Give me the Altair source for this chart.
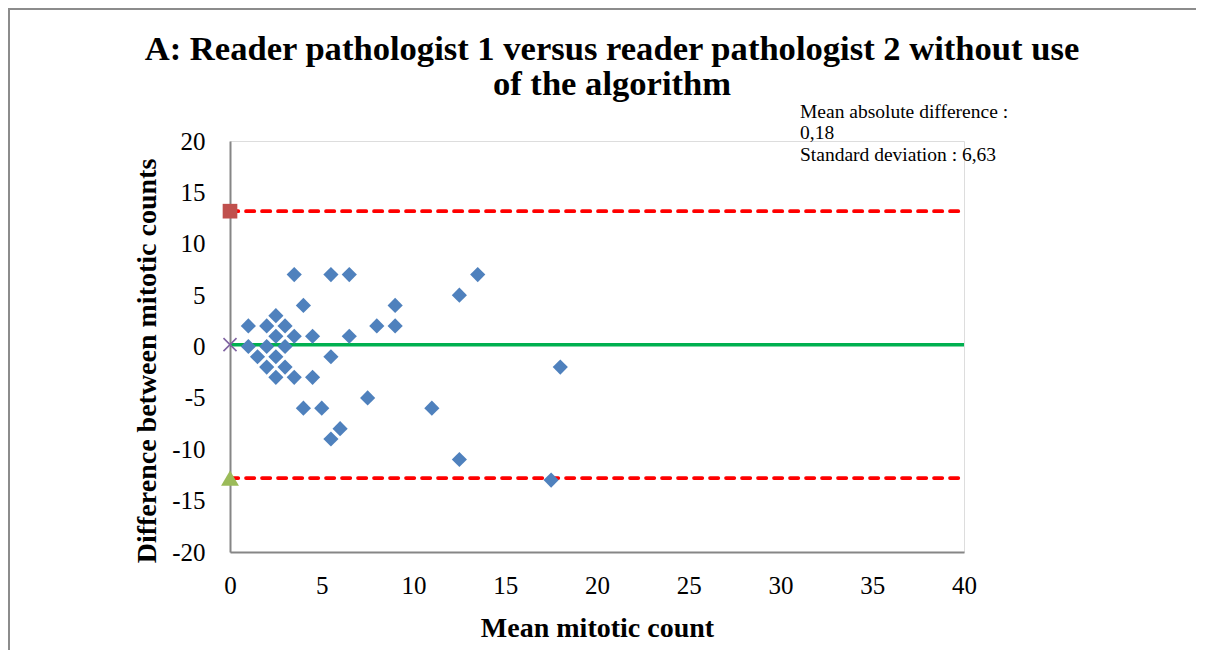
import altair as alt
import pandas as pd

# ---- data ----
mean_count = [3.5, 5.5, 6.5, 13.5, 12.5, 4, 9, 2.5, 1, 2, 3, 8, 9,
              2.5, 3.5, 4.5, 6.5, 1, 2, 3, 1.5, 2.5, 5.5, 2, 3, 18,
              2.5, 3.5, 4.5, 7.5, 4, 5, 11, 6, 5.5, 12.5, 17.5]
difference = [7, 7, 7, 7, 5, 4, 4, 3, 2, 2, 2, 2, 2,
              1, 1, 1, 1, 0, 0, 0, -1, -1, -1, -2, -2, -2,
              -3, -3, -3, -5, -6, -6, -6, -8, -9, -11, -13]
bias = 0.18
upper_loa = 13.17
lower_loa = -12.81
line_x = [0, 40]
x_ticks = [0, 5, 10, 15, 20, 25, 30, 35, 40]
y_ticks = [-20, -15, -10, -5, 0, 5, 10, 15, 20]
title_lines = ["A: Reader pathologist 1 versus reader pathologist 2 without use",
               "of the algorithm"]
note_lines = ["Mean absolute difference :", "0,18", "Standard deviation : 6,63"]
x_title = "Mean mitotic count"
y_title = "Difference between mitotic counts"

FONT = "Liberation Serif"

pts = pd.DataFrame({"x": mean_count, "y": difference})
mean_df = pd.DataFrame({"x": line_x, "y": [bias, bias]})
loa_df = pd.DataFrame({"x": line_x * 2,
                       "y": [upper_loa, upper_loa, lower_loa, lower_loa],
                       "k": ["upper", "upper", "lower", "lower"]})

x_scale = alt.Scale(domain=[0, 40], nice=False, zero=False)
y_scale = alt.Scale(domain=[-20, 20], nice=False, zero=False)

x_axis = alt.Axis(values=x_ticks, grid=False, ticks=False, tickSize=0,
                  domainColor="#868686", domainWidth=2,
                  labelFont=FONT, labelFontSize=25, labelColor="black",
                  labelPadding=21, labelFlush=False, labelOverlap=False,
                  labelExpr="'' + datum.value",
                  title=x_title, titleFont=FONT, titleFontSize=28,
                  titleFontWeight="bold", titleColor="black",
                  titleX=367, titleY=84, titleBaseline="alphabetic",
                  titleAlign="center")
y_axis = alt.Axis(values=y_ticks, grid=False, ticks=False, tickSize=0,
                  domainColor="#868686", domainWidth=2,
                  labelFont=FONT, labelFontSize=25, labelColor="black",
                  labelPadding=25, labelFlush=False, labelOverlap=False,
                  labelExpr="'' + datum.value",
                  title=y_title, titleFont=FONT, titleFontSize=28,
                  titleFontWeight="bold", titleColor="black",
                  titleX=-75, titleY=219.5, titleAngle=270,
                  titleBaseline="alphabetic", titleAlign="center")

X = alt.X("x:Q", scale=x_scale, axis=x_axis)
Y = alt.Y("y:Q", scale=y_scale, axis=y_axis)

one = pd.DataFrame({"a": [0]})

border = alt.Chart(one).mark_rect(
    fillOpacity=0, stroke="#8C8C8C", strokeWidth=2
).encode(x=alt.value(-221), x2=alt.value(990), y=alt.value(-132), y2=alt.value(600))

title = alt.Chart(one).mark_text(
    text=title_lines, font=FONT, fontSize=34.6, fontWeight="bold", color="black",
    align="center", baseline="alphabetic", lineHeight=35
).encode(x=alt.value(382), y=alt.value(-81))

mean_line = alt.Chart(mean_df).mark_line(color="#00B050", strokeWidth=3.5).encode(x=X, y=Y)
loa_lines = alt.Chart(loa_df).mark_line(
    color="#FF0000", strokeWidth=3.7, strokeDash=[8.3, 7.7], strokeCap="round"
).encode(x=X, y=Y, detail="k:N")

upper_marker = alt.Chart(loa_df.iloc[[0]]).mark_point(
    shape="square", filled=True, color="#C0504D", size=215, opacity=1
).encode(x=X, y=Y)
lower_marker = alt.Chart(loa_df.iloc[[2]]).mark_point(
    shape="triangle-up", filled=True, color="#9BBB59", size=320, opacity=1
).encode(x=X, y=Y)
mean_marker = alt.Chart(mean_df.iloc[[0]]).mark_point(
    shape="M-1,-1L1,1M-1,1L1,-1", filled=False, color="#8064A2",
    size=170, strokeWidth=1.6, opacity=1
).encode(x=X, y=Y)

points = alt.Chart(pts).mark_point(
    shape="diamond", filled=True, color="#4F81BD", size=230, opacity=1
).encode(x=X, y=Y)

note = alt.Chart(one).mark_text(
    text=note_lines, font=FONT, fontSize=19.5, color="black",
    align="left", baseline="alphabetic", lineHeight=21.5
).encode(x=alt.value(570), y=alt.value(-23.3))

chart = alt.layer(
    border, title, mean_line, loa_lines, upper_marker, lower_marker, mean_marker, points, note
).properties(
    width=734, height=411,
    autosize=alt.AutoSizeParams(type="none"),
    padding={"left": 222, "top": 133, "right": 232, "bottom": 98},
).configure_view(strokeWidth=0).configure(background="white")

chart.save("out.html", embed_options={"renderer": "svg", "actions": False})
